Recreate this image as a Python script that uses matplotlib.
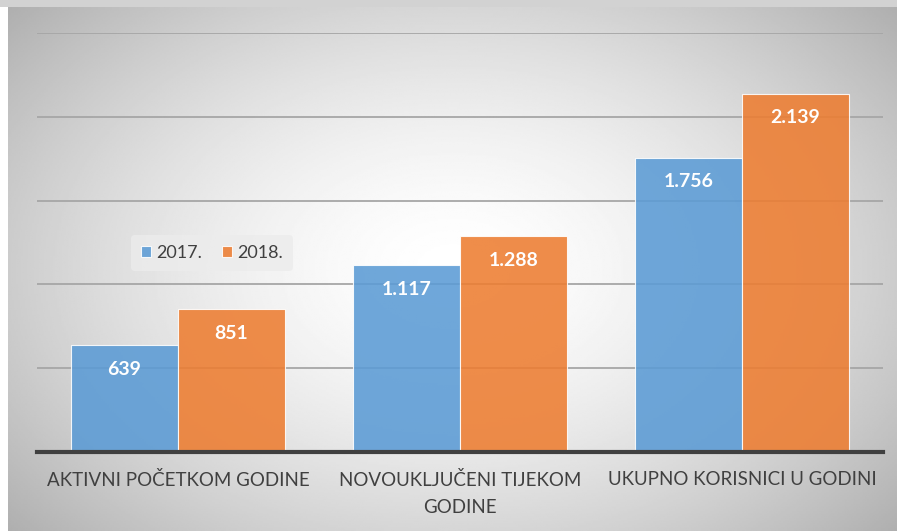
import numpy as np
import matplotlib
matplotlib.use("Agg")
import matplotlib.pyplot as plt

plt.rcParams["font.family"] = ["Lato", "DejaVu Sans"]

categories = ["AKTIVNI POČETKOM GODINE", "NOVOUKLJUČENI TIJEKOM\nGODINE", "UKUPNO KORISNICI U GODINI"]
series_names = ["2017.", "2018."]
values_2017 = [639, 1117, 1756]
values_2018 = [851, 1288, 2139]
labels_2017 = ["639", "1.117", "1.756"]
labels_2018 = ["851", "1.288", "2.139"]

blue = "#5b9bd5"
orange = "#ed7d31"

fig = plt.figure(figsize=(8.97, 5.31), dpi=100)
fig.patch.set_facecolor("white")

# top grey strip (cropped title area)
strip = fig.add_axes([0, 1 - 7 / 531, 1, 7 / 531])
strip.set_facecolor("#d2d2d2")
strip.set_xticks([])
strip.set_yticks([])
for s in strip.spines.values():
    s.set_visible(False)

# chart panel with radial gradient
bg = fig.add_axes([8 / 897, 0, 889 / 897, 524 / 531])
yy, xx = np.mgrid[-1:1:300j, -1:1:500j]
r = np.sqrt((xx / 1.0) ** 2 + (yy / 1.15) ** 2)
shade = 1.0 - 0.2 * np.clip(r, 0, 1.4) ** 1.6
bg.imshow(shade, cmap="gray", vmin=0, vmax=1, aspect="auto", extent=[0, 1, 0, 1])
bg.set_axis_off()

ax = fig.add_axes([37 / 897, (531 - 452) / 531, 846 / 897, 419 / 531])
ax.patch.set_alpha(0)
x = np.arange(len(categories))
w = 0.38
b1 = ax.bar(x - w / 2, values_2017, w, color=blue, alpha=0.88, edgecolor="white", linewidth=0.8, label=series_names[0], zorder=2)
b2 = ax.bar(x + w / 2, values_2018, w, color=orange, alpha=0.88, edgecolor="white", linewidth=0.8, label=series_names[1], zorder=2)

ax.set_xlim(-0.5, 2.5)
ax.set_ylim(0, 2500)
ax.set_yticks(np.arange(500, 2501, 500))
ax.yaxis.grid(True, color="#a6a6a6", linewidth=1.3, zorder=3)
ax.tick_params(axis="y", left=False, labelleft=False)
ax.tick_params(axis="x", bottom=False, pad=10)
ax.set_xticks(x)
ax.set_xticklabels(categories, fontsize=13.5, color="#404040", linespacing=1.75)
for s in ["top", "right", "left"]:
    ax.spines[s].set_visible(False)
ax.spines["bottom"].set_color("#404040")
ax.spines["bottom"].set_linewidth(3)
ax.spines["bottom"].set_zorder(4)

for bars, labs in [(b1, labels_2017), (b2, labels_2018)]:
    for bar, lab in zip(bars, labs):
        ax.text(bar.get_x() + bar.get_width() / 2, bar.get_height() - 145, lab,
                ha="center", va="center", color="white", fontsize=14, fontweight="bold", zorder=5)

leg = ax.legend(loc="upper left", bbox_to_anchor=(85 / 846, 226 / 419), ncol=2, frameon=True,
                fontsize=13, handlelength=0.55, handleheight=0.55, handletextpad=0.3,
                columnspacing=1.1, borderpad=0.55)
leg.get_frame().set_facecolor("#ececec")
leg.get_frame().set_edgecolor("none")
leg.get_frame().set_alpha(0.8)
for t in leg.get_texts():
    t.set_color("#404040")

fig.savefig("out.png", dpi=100)
